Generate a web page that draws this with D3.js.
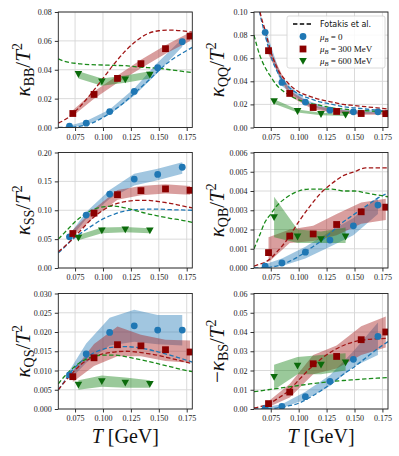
<!DOCTYPE html>
<html>
<head>
<meta charset="utf-8">
<script src="https://cdn.jsdelivr.net/npm/d3@7"></script>
<style>
  body { margin: 0; background: #fff; }
  svg { display: block; }
  .tick text { font-family: "Liberation Serif", "DejaVu Serif", serif; font-size: 8px; fill: #222; }
  .grid line { stroke: #d6d6d6; stroke-width: 0.9; }
</style>
</head>
<body>
<div id="chart"></div>
<script>
// temperatures (GeV) of the three data sets and of the Fotakis curves
var T0   = [0.070, 0.085, 0.106, 0.128, 0.149, 0.171];
var T300 = [0.073, 0.092, 0.113, 0.134, 0.156, 0.178];
var T600 = [0.078, 0.099, 0.120, 0.142];
var Tcurve = [0.060, 0.065, 0.070, 0.075, 0.080, 0.090, 0.100, 0.110, 0.120, 0.130, 0.140, 0.150, 0.160, 0.170, 0.180];

// kappa_BB / T^2
var bbV0 = [0.001, 0.003, 0.011, 0.025, 0.0414, 0.0594];
var bbLo0 = [0.0, 0.0015, 0.009, 0.022, 0.038, 0.056];
var bbHi0 = [0.0012, 0.0045, 0.0125, 0.027, 0.045, 0.0615];
var bbV3 = [0.0097, 0.0229, 0.034, 0.0442, 0.0546, 0.0633];
var bbLo3 = [0.008, 0.020, 0.031, 0.041, 0.051, 0.060];
var bbHi3 = [0.012, 0.025, 0.036, 0.047, 0.057, 0.066];
var bbV6 = [0.037, 0.0319, 0.0333, 0.0365];
var bbLo6 = [0.034, 0.029, 0.031, 0.034];
var bbHi6 = [0.039, 0.034, 0.036, 0.039];
var bbF0 = [0, 0, 0.0002, 0.0005, 0.001, 0.003, 0.007, 0.012, 0.018, 0.025, 0.032, 0.0395, 0.046, 0.051, 0.0555];
var bbF3 = [0.003, 0.005, 0.0075, 0.011, 0.015, 0.024, 0.034, 0.044, 0.053, 0.060, 0.065, 0.067, 0.0675, 0.067, 0.066];
var bbF6 = [0.0475, 0.046, 0.045, 0.0445, 0.044, 0.0435, 0.0433, 0.043, 0.0428, 0.042, 0.0415, 0.041, 0.040, 0.039, 0.038];

// kappa_QQ / T^2
var qqV0 = [0.0824, 0.039, 0.022, 0.015, 0.0136, 0.0136];
var qqLo0 = [0.078, 0.036, 0.020, 0.0135, 0.012, 0.012];
var qqHi0 = [0.086, 0.042, 0.024, 0.0165, 0.015, 0.015];
var qqV3 = [0.0665, 0.0295, 0.0173, 0.0139, 0.0121, 0.012];
var qqLo3 = [0.063, 0.027, 0.0155, 0.0125, 0.011, 0.011];
var qqHi3 = [0.070, 0.032, 0.019, 0.0155, 0.0135, 0.013];
var qqV6 = [0.0228, 0.0142, 0.0116, 0.011];
var qqLo6 = [0.0205, 0.013, 0.0105, 0.0100];
var qqHi6 = [0.0245, 0.0155, 0.0128, 0.0122];
var qqF0 = [0.13, 0.100, 0.080, 0.062, 0.050, 0.036, 0.029, 0.025, 0.022, 0.020, 0.018, 0.017, 0.016, 0.015, 0.0145];
var qqF3 = [0.135, 0.102, 0.084, 0.066, 0.053, 0.039, 0.031, 0.027, 0.024, 0.022, 0.020, 0.019, 0.018, 0.017, 0.016];
var qqF6 = [0.080, 0.063, 0.052, 0.044, 0.037, 0.029, 0.024, 0.021, 0.019, 0.017, 0.016, 0.015, 0.0145, 0.014, 0.0135];

// kappa_SS / T^2
var ssV0 = [0.0539, 0.0916, 0.128, 0.154, 0.162, 0.1745];
var ssLo0 = [0.050, 0.085, 0.120, 0.143, 0.152, 0.163];
var ssHi0 = [0.058, 0.097, 0.135, 0.163, 0.172, 0.183];
var ssV3 = [0.0597, 0.095, 0.127, 0.134, 0.137, 0.1345];
var ssLo3 = [0.054, 0.088, 0.118, 0.126, 0.129, 0.127];
var ssHi3 = [0.066, 0.102, 0.135, 0.142, 0.145, 0.142];
var ssV6 = [0.0525, 0.065, 0.0667, 0.065];
var ssLo6 = [0.048, 0.060, 0.062, 0.060];
var ssHi6 = [0.057, 0.070, 0.071, 0.069];
var ssF0 = [0.026, 0.035, 0.045, 0.053, 0.060, 0.073, 0.085, 0.093, 0.099, 0.101, 0.102, 0.102, 0.101, 0.1005, 0.100];
var ssF3 = [0.028, 0.036, 0.045, 0.055, 0.065, 0.085, 0.100, 0.110, 0.115, 0.117, 0.117, 0.115, 0.112, 0.108, 0.104];
var ssF6 = [0.050, 0.060, 0.070, 0.080, 0.088, 0.100, 0.106, 0.107, 0.104, 0.099, 0.094, 0.090, 0.086, 0.083, 0.079];

// kappa_QB / T^2
var qbV0 = [0.0001, 0.00026, 0.00082, 0.00145, 0.00219, 0.00327];
var qbLo0 = [0, 0.0001, 0.0005, 0.0011, 0.0017, 0.0028];
var qbHi0 = [0.0002, 0.0005, 0.0011, 0.0019, 0.0026, 0.0037];
var qbV3 = [0.0008, 0.00166, 0.00177, 0.00226, 0.00292, 0.00316];
var qbLo3 = [0.0003, 0.0013, 0.0014, 0.0017, 0.0023, 0.0025];
var qbHi3 = [0.0016, 0.0020, 0.0022, 0.0028, 0.0034, 0.0036];
var qbV6 = [0.00264, 0.00163, 0.0015, 0.00163];
var qbLo6 = [0.0016, 0.0013, 0.0013, 0.0013];
var qbHi6 = [0.0037, 0.0020, 0.0019, 0.0021];
var qbF0 = [0, 0, 0.00002, 0.00005, 0.0001, 0.0003, 0.0006, 0.0010, 0.0014, 0.0019, 0.0024, 0.0028, 0.0032, 0.0036, 0.0039];
var qbF3 = [0.0001, 0.0002, 0.0003, 0.0005, 0.0008, 0.0015, 0.0024, 0.0032, 0.0039, 0.0044, 0.0048, 0.0050, 0.0052, 0.0052, 0.0052];
var qbF6 = [0.0010, 0.0017, 0.0024, 0.0028, 0.0032, 0.0037, 0.0040, 0.0041, 0.0041, 0.0041, 0.0040, 0.0040, 0.0039, 0.0038, 0.0037];

// kappa_QS / T^2
var qsV0 = [0.00886, 0.0143, 0.0199, 0.0216, 0.0205, 0.0205];
var qsLo0 = [0.0075, 0.012, 0.0165, 0.0175, 0.0168, 0.0165];
var qsHi0 = [0.010, 0.017, 0.0237, 0.0258, 0.0244, 0.0244];
var qsV3 = [0.0084, 0.0133, 0.0167, 0.0164, 0.0154, 0.0148];
var qsLo3 = [0.007, 0.0112, 0.0137, 0.0137, 0.0125, 0.012];
var qsHi3 = [0.0098, 0.0169, 0.0214, 0.0193, 0.018, 0.0178];
var qsV6 = [0.0063, 0.0072, 0.0068, 0.0065];
var qsLo6 = [0.005, 0.0058, 0.0055, 0.0055];
var qsHi6 = [0.0075, 0.0087, 0.0082, 0.0075];
var qsF0 = [0.005, 0.007, 0.0092, 0.0108, 0.0122, 0.0143, 0.0155, 0.0161, 0.0162, 0.0160, 0.0155, 0.0148, 0.0140, 0.0131, 0.0122];
var qsF3 = [0.005, 0.0068, 0.0085, 0.0101, 0.0115, 0.0133, 0.0143, 0.0148, 0.0150, 0.0148, 0.0144, 0.0139, 0.0132, 0.0125, 0.0118];
var qsF6 = [0.0065, 0.0083, 0.0098, 0.0111, 0.0122, 0.0135, 0.0140, 0.0140, 0.0136, 0.0130, 0.0124, 0.0117, 0.0110, 0.0103, 0.0097];

// -kappa_BS / T^2
var bsV0 = [0.0003, 0.0014, 0.0064, 0.0144, 0.0258, 0.0377];
var bsLo0 = [0, 0.0005, 0.005, 0.012, 0.022, 0.028];
var bsHi0 = [0.001, 0.0025, 0.009, 0.0175, 0.030, 0.045];
var bsV3 = [0.0028, 0.0088, 0.0235, 0.0273, 0.036, 0.040];
var bsLo3 = [0.001, 0.006, 0.018, 0.021, 0.028, 0.032];
var bsHi3 = [0.004, 0.013, 0.028, 0.033, 0.043, 0.048];
var bsV6 = [0.0166, 0.0225, 0.023, 0.0242];
var bsLo6 = [0.010, 0.018, 0.018, 0.020];
var bsHi6 = [0.023, 0.027, 0.028, 0.029];
var bsF0 = [0, 0, 0.0001, 0.0002, 0.0005, 0.0015, 0.003, 0.006, 0.0095, 0.0135, 0.018, 0.022, 0.0265, 0.031, 0.035];
var bsF3 = [0.0005, 0.0012, 0.002, 0.0033, 0.005, 0.009, 0.015, 0.021, 0.026, 0.030, 0.033, 0.035, 0.036, 0.0365, 0.0367];
var bsF6 = [0.009, 0.0094, 0.0098, 0.0102, 0.0106, 0.0114, 0.0122, 0.013, 0.0137, 0.0143, 0.0148, 0.0152, 0.0156, 0.016, 0.0163];

var xTicks = [0.075, 0.100, 0.125, 0.150, 0.175];
var legendLabels = ['Fotakis et al.', '0', '300', '600'];

var panels = [
  {id: 'bb', sub: 'BB', minus: false, ymax: 0.08, step: 0.02, fmt: '.2f', col: 0, row: 0,
   v: [bbV0, bbV3, bbV6], lo: [bbLo0, bbLo3, bbLo6], hi: [bbHi0, bbHi3, bbHi6], f: [bbF0, bbF3, bbF6]},
  {id: 'qq', sub: 'QQ', minus: false, ymax: 0.10, step: 0.02, fmt: '.2f', col: 1, row: 0,
   v: [qqV0, qqV3, qqV6], lo: [qqLo0, qqLo3, qqLo6], hi: [qqHi0, qqHi3, qqHi6], f: [qqF0, qqF3, qqF6]},
  {id: 'ss', sub: 'SS', minus: false, ymax: 0.20, step: 0.05, fmt: '.2f', col: 0, row: 1,
   v: [ssV0, ssV3, ssV6], lo: [ssLo0, ssLo3, ssLo6], hi: [ssHi0, ssHi3, ssHi6], f: [ssF0, ssF3, ssF6]},
  {id: 'qb', sub: 'QB', minus: false, ymax: 0.006, step: 0.001, fmt: '.3f', col: 1, row: 1,
   v: [qbV0, qbV3, qbV6], lo: [qbLo0, qbLo3, qbLo6], hi: [qbHi0, qbHi3, qbHi6], f: [qbF0, qbF3, qbF6]},
  {id: 'qs', sub: 'QS', minus: false, ymax: 0.030, step: 0.005, fmt: '.3f', col: 0, row: 2,
   v: [qsV0, qsV3, qsV6], lo: [qsLo0, qsLo3, qsLo6], hi: [qsHi0, qsHi3, qsHi6], f: [qsF0, qsF3, qsF6]},
  {id: 'bs', sub: 'BS', minus: true, ymax: 0.06, step: 0.01, fmt: '.2f', col: 1, row: 2,
   v: [bsV0, bsV3, bsV6], lo: [bsLo0, bsLo3, bsLo6], hi: [bsHi0, bsHi3, bsHi6], f: [bsF0, bsF3, bsF6]}
];

var temps = [T0, T300, T600];
var markColor = ['#1f77b4', '#8b0000', '#0b6b0b'];
var lineColor = ['#1f77b4', '#a01515', '#1a8a1a'];
var bandColor = ['rgba(31,119,180,0.42)', 'rgba(170,40,40,0.45)', 'rgba(30,135,30,0.45)'];

var W = 399, H = 456;
var colX = [58.3, 254];
var rowY = [12, 152.5, 293.5];
var pw = 134, ph = 115.5;
var serif = '"Liberation Serif", "DejaVu Serif", serif';

var svg = d3.select('#chart').append('svg').attr('width', W).attr('height', H);

var x = d3.scaleLinear().domain([0.06, 0.18]).range([0, pw]);

function marker(g, kind, cx, cy, color) {
  if (kind === 0) {
    g.append('circle').attr('cx', cx).attr('cy', cy).attr('r', 3.4).attr('fill', color);
  } else if (kind === 1) {
    g.append('rect').attr('x', cx - 3.4).attr('y', cy - 3.4).attr('width', 6.8).attr('height', 6.8).attr('fill', color);
  } else {
    g.append('path').attr('d', 'M' + (cx - 3.8) + ',' + (cy - 3) + 'L' + (cx + 3.8) + ',' + (cy - 3) + 'L' + cx + ',' + (cy + 3.8) + 'Z').attr('fill', color);
  }
}

panels.forEach(function(p) {
  var y = d3.scaleLinear().domain([0, p.ymax]).range([ph, 0]);
  var g = svg.append('g').attr('transform', 'translate(' + colX[p.col] + ',' + rowY[p.row] + ')');
  var yTicks = d3.range(0, p.ymax + p.step / 2, p.step);

  g.append('clipPath').attr('id', 'clip-' + p.id)
    .append('rect').attr('width', pw).attr('height', ph);

  // grid
  var grid = g.append('g').attr('class', 'grid');
  grid.selectAll('.gx').data(xTicks).enter().append('line')
    .attr('x1', function(d) { return x(d); }).attr('x2', function(d) { return x(d); })
    .attr('y1', 0).attr('y2', ph);
  grid.selectAll('.gy').data(yTicks).enter().append('line')
    .attr('y1', function(d) { return y(d); }).attr('y2', function(d) { return y(d); })
    .attr('x1', 0).attr('x2', pw);

  var plot = g.append('g').attr('clip-path', 'url(#clip-' + p.id + ')');

  // bands
  [0, 1, 2].forEach(function(k) {
    var pts = temps[k].map(function(t, i) { return {t: t, lo: p.lo[k][i], hi: p.hi[k][i]}; });
    plot.append('path').datum(pts)
      .attr('fill', bandColor[k])
      .attr('d', d3.area().x(function(d) { return x(d.t); })
        .y0(function(d) { return y(d.lo); }).y1(function(d) { return y(d.hi); }));
  });

  // Fotakis et al. curves
  [0, 1, 2].forEach(function(k) {
    plot.append('path').datum(Tcurve.map(function(t, i) { return [t, p.f[k][i]]; }))
      .attr('fill', 'none').attr('stroke', lineColor[k]).attr('stroke-width', 1.3)
      .attr('stroke-dasharray', '4.4,2.4')
      .attr('d', d3.line().curve(d3.curveMonotoneX)
        .x(function(d) { return x(d[0]); }).y(function(d) { return y(d[1]); }));
  });

  // data points
  [0, 1, 2].forEach(function(k) {
    temps[k].forEach(function(t, i) {
      marker(plot, k, x(t), y(p.v[k][i]), markColor[k]);
    });
  });

  // axes
  g.append('g').attr('transform', 'translate(0,' + ph + ')')
    .call(d3.axisBottom(x).tickValues(xTicks).tickFormat(d3.format('.3f')).tickSize(3.5).tickPadding(3))
    .call(function(a) { a.select('.domain').remove(); a.selectAll('.tick line').attr('stroke', '#333'); });
  g.append('g')
    .call(d3.axisLeft(y).tickValues(yTicks).tickFormat(d3.format(p.fmt)).tickSize(3.5).tickPadding(3))
    .call(function(a) { a.select('.domain').remove(); a.selectAll('.tick line').attr('stroke', '#333'); });

  g.append('rect').attr('width', pw).attr('height', ph)
    .attr('fill', 'none').attr('stroke', '#222').attr('stroke-width', 0.9);

  // y label
  var lx = p.col === 0 ? 23 - colX[0] : 216.5 - colX[1];
  var lab = g.append('text')
    .attr('transform', 'translate(' + (lx + 7) + ',' + (ph / 2) + ') rotate(-90)')
    .attr('text-anchor', 'middle')
    .style('font-family', serif).style('font-size', '21px').attr('fill', '#111');
  if (p.minus) lab.append('tspan').text('\u2212');
  lab.append('tspan').style('font-style', 'italic').text('\u03ba');
  lab.append('tspan').attr('dy', 4).style('font-size', '14px').text(p.sub);
  lab.append('tspan').attr('dy', -4).text('/');
  lab.append('tspan').style('font-style', 'italic').text('T');
  lab.append('tspan').attr('dy', -8).style('font-size', '14px').text('2');

  // x label on bottom row
  if (p.row === 2) {
    var xl = g.append('text').attr('x', pw / 2).attr('y', ph + 33.5)
      .attr('text-anchor', 'middle')
      .style('font-family', serif).style('font-size', '20px').attr('fill', '#111');
    xl.append('tspan').style('font-style', 'italic').text('T');
    xl.append('tspan').text(' [GeV]');
  }

  // legend in the QQ panel
  if (p.id === 'qq') {
    var lg = g.append('g').attr('transform', 'translate(' + (287 - colX[1]) + ',' + (16 - rowY[0]) + ')');
    lg.append('rect').attr('width', 98).attr('height', 52).attr('rx', 2)
      .attr('fill', 'rgba(255,255,255,0.85)').attr('stroke', '#d0d0d0').attr('stroke-width', 0.8);
    var rows = [8, 20.5, 33, 45];
    lg.append('line').attr('x1', 6).attr('x2', 26).attr('y1', rows[0]).attr('y2', rows[0])
      .attr('stroke', '#000').attr('stroke-width', 1.3).attr('stroke-dasharray', '4.4,2.4');
    lg.append('text').attr('x', 33).attr('y', rows[0] + 3)
      .style('font-family', '"DejaVu Sans", sans-serif').style('font-size', '8px').attr('fill', '#111')
      .text(legendLabels[0]);
    [0, 1, 2].forEach(function(k) {
      marker(lg, k, 16, rows[k + 1], markColor[k]);
      var t = lg.append('text').attr('x', 33).attr('y', rows[k + 1] + 3)
        .style('font-family', serif).style('font-size', '9px').attr('fill', '#111');
      t.append('tspan').style('font-style', 'italic').text('\u03bc');
      t.append('tspan').attr('dy', 2).style('font-size', '6.5px').style('font-style', 'italic').text('B');
      t.append('tspan').attr('dy', -2).text(' = ' + legendLabels[k + 1] + (k > 0 ? ' MeV' : ''));
    });
  }
});
</script>
</body>
</html>
